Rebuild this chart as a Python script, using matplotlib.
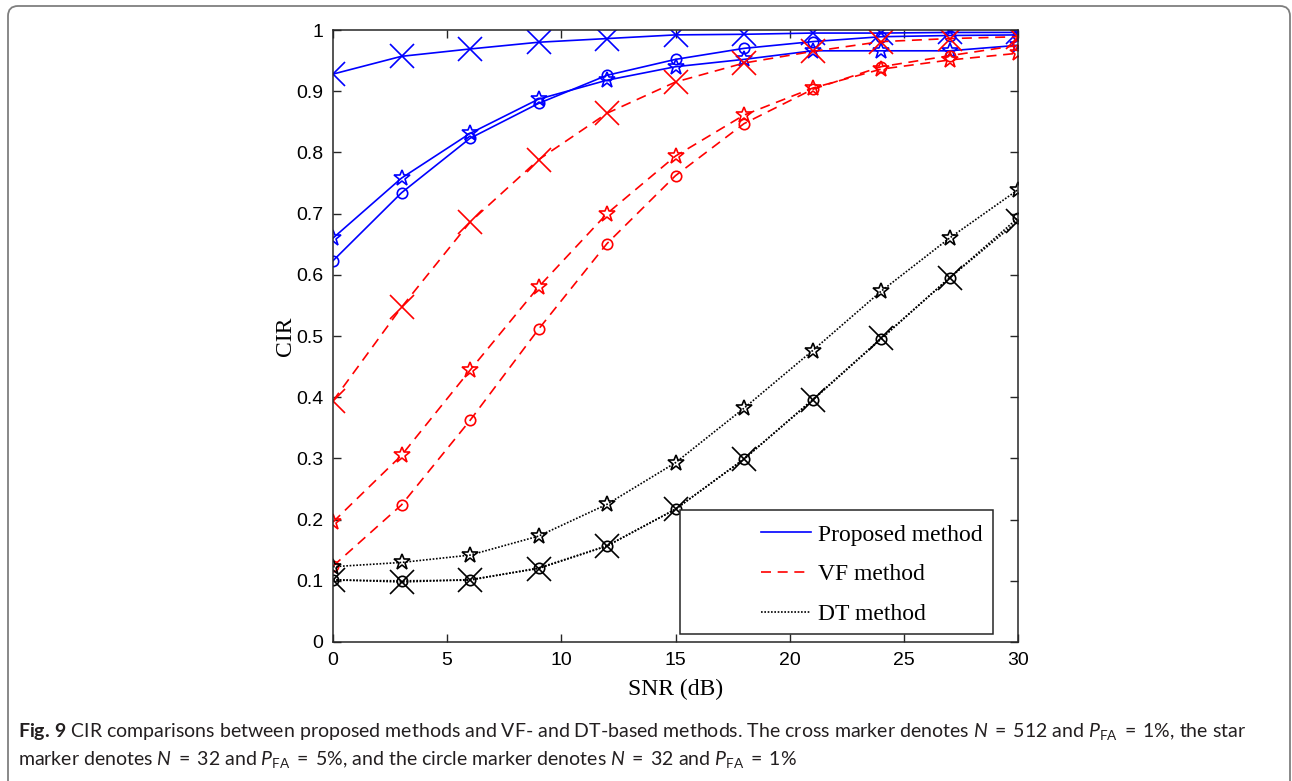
#!/usr/bin/env python3
# cir_snr.py
# CIR versus SNR for proposed, VF and DT methods

import matplotlib
matplotlib.use("Agg")
import matplotlib.pyplot as plt
from matplotlib.patches import FancyBboxPatch, Rectangle
from matplotlib.lines import Line2D
from matplotlib.transforms import IdentityTransform

snr = [0, 3, 6, 9, 12, 15, 18, 21, 24, 27, 30]

# proposed method
prop_cross = [0.928, 0.957, 0.969, 0.980, 0.986, 0.992, 0.993, 0.995, 0.995, 0.996, 0.996]
prop_star = [0.660, 0.758, 0.831, 0.887, 0.918, 0.940, 0.952, 0.966, 0.966, 0.966, 0.975]
prop_circle = [0.623, 0.734, 0.823, 0.880, 0.926, 0.952, 0.970, 0.981, 0.989, 0.991, 0.992]

# VF method
vf_cross = [0.394, 0.547, 0.686, 0.788, 0.864, 0.915, 0.946, 0.965, 0.981, 0.986, 0.989]
vf_star = [0.196, 0.305, 0.444, 0.580, 0.700, 0.794, 0.861, 0.905, 0.936, 0.951, 0.962]
vf_circle = [0.124, 0.224, 0.362, 0.511, 0.651, 0.762, 0.847, 0.903, 0.940, 0.958, 0.975]

# DT method
dt_cross = [0.102, 0.098, 0.102, 0.120, 0.157, 0.217, 0.299, 0.396, 0.496, 0.595, 0.688]
dt_star = [0.123, 0.130, 0.142, 0.173, 0.225, 0.293, 0.382, 0.476, 0.573, 0.660, 0.739]
dt_circle = [0.101, 0.100, 0.101, 0.121, 0.157, 0.217, 0.299, 0.395, 0.495, 0.595, 0.693]

legend_labels = ["Proposed method", "VF method", "DT method"]

caption1 = (r"$\mathbf{Fig.\,9}$ CIR comparisons between proposed methods and VF- and DT-based methods. "
            r"The cross marker denotes $\mathit{N}\;=\;512$ and $\mathit{P}_{\mathrm{FA}}\;=\;1\%$, the star")
caption2 = (r"marker denotes $\mathit{N}\;=\;32$ and $\mathit{P}_{\mathrm{FA}}\;=\;5\%$, and the circle marker "
            r"denotes $\mathit{N}\;=\;32$ and $\mathit{P}_{\mathrm{FA}}\;=\;1\%$")

plt.rcParams['mathtext.fontset'] = 'custom'
plt.rcParams['mathtext.rm'] = 'Lato'
plt.rcParams['mathtext.it'] = 'Lato:italic'
plt.rcParams['mathtext.bf'] = 'Lato:bold'

fig = plt.figure(figsize=(12.92, 7.81), dpi=100)
ax = fig.add_axes([333/1292, 1 - 642/781, 685/1292, 612/781])

styles = [
    ("blue", "-", 1.2, prop_cross, prop_star, prop_circle),
    ("red", (0, (6, 4)), 1.2, vf_cross, vf_star, vf_circle),
    ("black", (0, (1, 1)), 1.2, dt_cross, dt_star, dt_circle),
]
for col, ls, lw, yc, ys, yo in styles:
    ax.plot(snr, yc, color=col, ls=ls, lw=lw, marker="x", ms=17, mew=1.2)
    ax.plot(snr, ys, color=col, ls=ls, lw=lw, marker="*", ms=12, mfc="none", mew=1.2)
    ax.plot(snr, yo, color=col, ls=ls, lw=lw, marker="o", ms=7.5, mfc="none", mew=1.2)

ax.set_xlim(0, 30)
ax.set_ylim(0, 1)
ax.set_xticks([0, 5, 10, 15, 20, 25, 30])
ax.set_yticks([i / 10 for i in range(11)])
ax.set_yticklabels(["0", "0.1", "0.2", "0.3", "0.4", "0.5", "0.6", "0.7", "0.8", "0.9", "1"])
ax.tick_params(direction="in", length=6, width=1, top=True, right=True,
               labelsize=14, pad=7, colors="#262626")
for lab in ax.get_xticklabels() + ax.get_yticklabels():
    lab.set_family("Liberation Sans")
    lab.set_color("black")
for sp in ax.spines.values():
    sp.set_color("#262626")
    sp.set_linewidth(1.1)

ax.set_xlabel("SNR (dB)", family="Liberation Serif", fontsize=17, labelpad=7)
ax.set_ylabel("CIR", family="Liberation Serif", fontsize=17, labelpad=0)

# legend: MATLAB-like box, lines only
handles = [Line2D([], [], color=c, ls=ls, lw=lw) for c, ls, lw, *_ in styles]
ax.add_patch(Rectangle(((680-333)/685, (642-634)/612), (993-680)/685, (634-510)/612,
                       transform=ax.transAxes, fc="white", ec="#262626", lw=1.1, zorder=5))
leg = ax.legend(handles, legend_labels, loc="upper left",
                bbox_to_anchor=((761-333)/685, (642-524)/612),
                frameon=False, borderpad=0, borderaxespad=0,
                handlelength=2.1, handletextpad=0.3, labelspacing=0.78,
                prop={"family": "Liberation Serif", "size": 17})
leg.set_zorder(6)

# caption
fig.text(18/1292, 1 - 737/781, caption1, fontsize=14, family="Lato",
         color="#231f20", va="baseline")
fig.text(18/1292, 1 - 765/781, caption2, fontsize=14, family="Lato",
         color="#231f20", va="baseline")

# rounded frame of the figure panel
frame = FancyBboxPatch((8, -30), 1282, 781 - 6 + 30,
                       boxstyle="round,pad=0,rounding_size=10",
                       transform=IdentityTransform(), fc="none", ec="#7f7f7f", lw=1.3)
fig.patches.append(frame)

fig.savefig("out.png", dpi=100)

# eof
